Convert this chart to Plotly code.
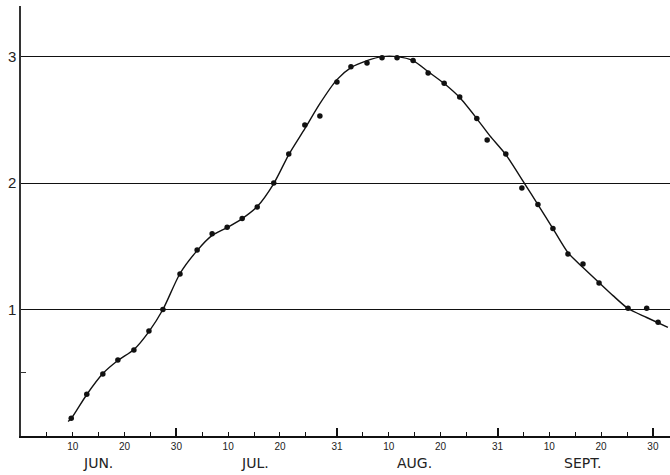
import plotly.graph_objects as go

# Day index: days counted from May 31 (Jun 1 = 1, Jul 1 = 31, Aug 1 = 62, Sep 1 = 93)
obs_days = [9.7, 12.7, 15.8, 18.7, 21.8, 24.7, 27.4, 30.7, 34.0, 36.9, 39.8, 42.7, 45.6,
            48.8, 51.7, 54.8, 57.7, 61.0, 63.7, 66.8, 69.7, 72.6, 75.7, 78.6, 81.7, 84.7,
            88.0, 90.0, 93.6, 96.7, 99.8, 102.7, 105.6, 108.5, 111.6, 117.2, 120.8, 123.0]
obs_values = [0.14, 0.33, 0.49, 0.60, 0.68, 0.83, 1.00, 1.28, 1.47, 1.60, 1.65, 1.72, 1.81,
              2.00, 2.23, 2.46, 2.53, 2.80, 2.92, 2.95, 2.99, 2.99, 2.97, 2.87, 2.79, 2.68,
              2.51, 2.34, 2.23, 1.96, 1.83, 1.64, 1.44, 1.36, 1.21, 1.01, 1.01, 0.90]

curve_days = [9.1, 9.7, 12.7, 15.8, 18.7, 21.8, 24.7, 27.4, 30.7, 34.0, 36.9, 39.8, 42.7,
              45.6, 48.8, 51.7, 54.8, 57.7, 61.0, 63.7, 66.8, 69.7, 72.6, 75.7, 78.6, 81.7,
              84.7, 88.0, 90.5, 93.6, 97.1, 99.8, 102.7, 105.6, 108.5, 111.6, 114.3, 117.2,
              120.8, 124.9]
curve_values = [0.115, 0.138, 0.328, 0.494, 0.597, 0.684, 0.826, 1.0, 1.285, 1.466, 1.586,
                1.648, 1.719, 1.814, 1.996, 2.225, 2.43, 2.628, 2.818, 2.913, 2.968, 3.0,
                3.0, 2.968, 2.881, 2.787, 2.676, 2.51, 2.375, 2.225, 2.004, 1.83, 1.64,
                1.45, 1.332, 1.213, 1.11, 1.008, 0.937, 0.858]

label_days = [10, 20, 30, 40, 50, 61, 71, 81, 92, 102, 112, 122]
label_text = ["10", "20", "30", "10", "20", "31", "10", "20", "31", "10", "20", "30"]
minor_days = [5, 15, 25, 35, 45, 55, 66, 76, 86, 97, 107, 117]
month_end_days = [30, 61, 92, 122]
month_names = ["JUN.", "JUL.", "AUG.", "SEPT."]
month_centers = [14.9, 45.2, 76.0, 108.5]

y_tick_vals = [1, 2, 3]
y_tick_text = ["1", "2", "3"]
y_minor_vals = [0.5]

X_RANGE = [0, 125.3]
Y_RANGE = [0, 3.4]
FONT = "Liberation Sans, Arial, sans-serif"

fig = go.Figure()
fig.add_trace(go.Scatter(x=curve_days, y=curve_values, mode="lines",
                         line=dict(color="#111", width=1.4, shape="spline", smoothing=0.7),
                         hoverinfo="skip", showlegend=False))
fig.add_trace(go.Scatter(x=obs_days, y=obs_values, mode="markers",
                         marker=dict(color="#111", size=5.5),
                         showlegend=False))
# invisible trace on overlay axis for month-end ticks
fig.add_trace(go.Scatter(x=[X_RANGE[0]], y=[0], xaxis="x2", mode="markers",
                         marker=dict(opacity=0), hoverinfo="skip", showlegend=False))

for name, c in zip(month_names, month_centers):
    fig.add_annotation(x=c, xref="x", y=-0.063, yref="paper", text=name,
                       showarrow=False, xanchor="center", yanchor="middle",
                       font=dict(family="DejaVu Sans, sans-serif", size=14, color="#222"))

fig.update_layout(
    width=670, height=475,
    margin=dict(l=21, r=0, t=6, b=38.5, autoexpand=False),
    paper_bgcolor="white", plot_bgcolor="white",
    font=dict(family=FONT, color="#222"),
    xaxis=dict(range=X_RANGE, showgrid=False, zeroline=False, automargin=False,
               showline=True, linecolor="#111", linewidth=1.5,
               tickmode="array", tickvals=label_days, ticktext=label_text,
               ticks="inside", ticklen=4, tickcolor="#111", tickwidth=1.2,
               tickfont=dict(size=10, family=FONT, color="#222"),
               minor=dict(tickmode="array", tickvals=minor_days, ticks="inside",
                          ticklen=4, tickcolor="#111", tickwidth=1.2, showgrid=False)),
    xaxis2=dict(range=X_RANGE, overlaying="x", anchor="y", side="bottom",
                showgrid=False, zeroline=False, showline=False, automargin=False,
                tickmode="array", tickvals=month_end_days, ticks="inside",
                ticklen=8, tickwidth=1.5, tickcolor="#111", showticklabels=False),
    yaxis=dict(range=Y_RANGE, showgrid=True, gridcolor="#111", gridwidth=1.3,
               zeroline=False, showline=True, linecolor="#333", linewidth=1.5,
               automargin=False,
               tickmode="array", tickvals=y_tick_vals, ticktext=y_tick_text,
               ticks="", tickfont=dict(size=15, family=FONT, color="#222"),
               minor=dict(tickmode="array", tickvals=y_minor_vals, ticks="inside",
                          ticklen=5, tickcolor="#333", tickwidth=1.2, showgrid=False)),
)

fig.write_html("out.html", config={"displayModeBar": False},
               post_script="document.body.style.margin='0px';document.body.style.overflow='hidden';")
